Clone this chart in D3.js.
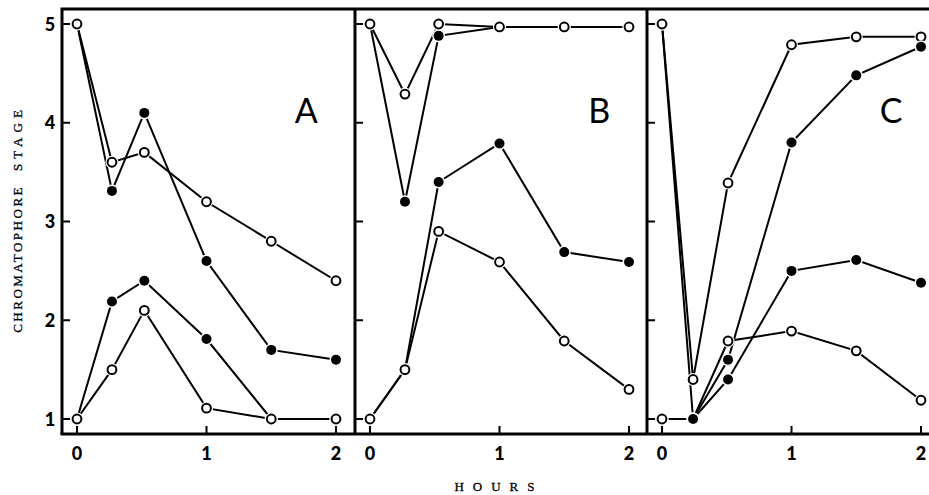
<!DOCTYPE html>
<html>
<head>
<meta charset="utf-8">
<script src="https://cdn.jsdelivr.net/npm/d3@7/dist/d3.min.js"></script>
<style>
  body { margin: 0; background: #fff; }
  svg { display: block; }
</style>
</head>
<body>
<svg id="canvas" width="929" height="495"></svg>
<script>
// chart data
const panelNames = ["A", "B", "C"]
const stageTicks = [1, 2, 3, 4, 5]
const hourTicks = [0, 1, 2]

// sampling times (hours) per panel
const hoursA = [0, 0.27, 0.52, 1, 1.5, 2]
const hoursB = [0, 0.27, 0.53, 1, 1.5, 2]
const hoursC = [0, 0.24, 0.51, 1, 1.5, 2]

// panel A
const aFilledUpper = [5, 3.31, 4.10, 2.60, 1.70, 1.60]
const aOpenUpper = [5, 3.60, 3.70, 3.20, 2.80, 2.40]
const aFilledLower = [1, 2.19, 2.40, 1.81, 1.00, 1.00]
const aOpenLower = [1, 1.50, 2.10, 1.11, 1.00, 1.00]

// panel B
const bFilledUpper = [5, 3.20, 4.88, 4.97, 4.97, 4.97]
const bOpenUpper = [5, 4.29, 5.00, 4.97, 4.97, 4.97]
const bFilledLower = [1, 1.50, 3.40, 3.79, 2.69, 2.59]
const bOpenLower = [1, 1.50, 2.90, 2.59, 1.79, 1.30]

// panel C
const cOpenUpper = [5, 1.40, 3.39, 4.79, 4.87, 4.87]
const cOpenLower = [1, 1.00, 1.79, 1.89, 1.69, 1.19]
const cFilledUpper = [5, 1.00, 1.60, 3.80, 4.48, 4.77]
const cFilledLower = [1, 1.00, 1.40, 2.50, 2.61, 2.38]

// series in drawing order (later ones sit on top)
// the starting points (hour 0) are always drawn as open circles
const panels = [
  { name: panelNames[0], hours: hoursA, series: [
    { v: aFilledUpper, filled: true }, { v: aFilledLower, filled: true },
    { v: aOpenUpper, filled: false }, { v: aOpenLower, filled: false } ] },
  { name: panelNames[1], hours: hoursB, series: [
    { v: bFilledUpper, filled: true }, { v: bFilledLower, filled: true },
    { v: bOpenUpper, filled: false }, { v: bOpenLower, filled: false } ] },
  { name: panelNames[2], hours: hoursC, series: [
    { v: cOpenUpper, filled: false }, { v: cOpenLower, filled: false },
    { v: cFilledUpper, filled: true }, { v: cFilledLower, filled: true } ] }
]

//////////////
// layout   //
//////////////
const frameTop = 9
const frameBottom = 434
const frameRight = 929
const panelLeft = [62, 355, 647]
const zeroOffset = 15
const twoHourWidth = 259

const svg = d3.select("#canvas")

const y = d3.scaleLinear().domain([1, 5]).range([419, 24])

const numFont = "Lato, 'DejaVu Sans', sans-serif"
const serifFont = "'Liberation Serif', 'DejaVu Serif', serif"

panels.forEach((p, i) => {
  const left = panelLeft[i]
  const x = d3.scaleLinear().domain([0, 2])
    .range([left + zeroOffset, left + zeroOffset + twoHourWidth])
  const g = svg.append("g")

  // inward ticks on the panel's left border
  g.selectAll("line.yt").data(stageTicks).enter().append("line")
    .attr("x1", left).attr("x2", left + 8)
    .attr("y1", d => y(d)).attr("y2", d => y(d))
    .attr("stroke", "#000").attr("stroke-width", 2)

  // hour ticks on the bottom
  g.selectAll("line.xt").data(hourTicks).enter().append("line")
    .attr("x1", d => x(d)).attr("x2", d => x(d))
    .attr("y1", frameBottom).attr("y2", frameBottom - 8)
    .attr("stroke", "#000").attr("stroke-width", 2)

  g.selectAll("text.xl").data(hourTicks).enter().append("text")
    .attr("x", d => x(d)).attr("y", 460)
    .attr("text-anchor", "middle")
    .attr("font-family", numFont).attr("font-weight", 900)
    .attr("font-size", 18)
    .text(d => d)

  // panel letter
  g.append("text")
    .attr("x", x(1.77)).attr("y", 123)
    .attr("text-anchor", "middle")
    .attr("font-family", "Lato, 'Open Sans', sans-serif")
    .attr("font-size", 34)
    .text(p.name)

  const line = d3.line()
    .x((d, k) => x(p.hours[k]))
    .y(d => y(d))

  p.series.forEach(s => {
    g.append("path").datum(s.v)
      .attr("d", line)
      .attr("fill", "none")
      .attr("stroke", "#000")
      .attr("stroke-width", 2)
  })

  // white halo so the lines stop short of the dots
  p.series.forEach(s => {
    const isFilled = k => s.filled && k > 0
    g.selectAll(null).data(s.v).enter().append("circle")
      .attr("cx", (d, k) => x(p.hours[k])).attr("cy", d => y(d))
      .attr("r", 6.5).attr("fill", "#fff")
    g.selectAll(null).data(s.v).enter().append("circle")
      .attr("cx", (d, k) => x(p.hours[k])).attr("cy", d => y(d))
      .attr("r", (d, k) => isFilled(k) ? 5 : 4.4)
      .attr("fill", (d, k) => isFilled(k) ? "#000" : "#fff")
      .attr("stroke", "#000")
      .attr("stroke-width", (d, k) => isFilled(k) ? 0 : 2)
  })
})

// frame
svg.append("path")
  .attr("d", `M${panelLeft[0]},${frameBottom}V${frameTop}H${frameRight}`)
  .attr("fill", "none").attr("stroke", "#000").attr("stroke-width", 3)
svg.append("line")
  .attr("x1", panelLeft[0] - 1.5).attr("x2", frameRight)
  .attr("y1", frameBottom).attr("y2", frameBottom)
  .attr("stroke", "#000").attr("stroke-width", 3)
panelLeft.slice(1).forEach(px => {
  svg.append("line")
    .attr("x1", px).attr("x2", px)
    .attr("y1", frameTop).attr("y2", frameBottom)
    .attr("stroke", "#000").attr("stroke-width", 3)
})

// stage labels
svg.selectAll("text.yl").data(stageTicks).enter().append("text")
  .attr("x", 50).attr("y", d => y(d) + 6.5)
  .attr("text-anchor", "middle")
  .attr("font-family", numFont).attr("font-weight", 900)
  .attr("font-size", 18)
  .text(d => d)

// axis titles
svg.append("text")
  .attr("x", 499).attr("y", 491)
  .attr("text-anchor", "middle")
  .attr("font-family", serifFont)
  .attr("font-size", 13)
  .attr("letter-spacing", 9)
  .attr("stroke", "#000").attr("stroke-width", 0.3)
  .text("HOURS")

const yTitle = svg.append("text")
  .attr("transform", "translate(22,219) rotate(-90)")
  .attr("text-anchor", "middle")
  .attr("font-family", serifFont)
  .attr("font-size", 13)
  .attr("letter-spacing", 2.5)
  .attr("stroke", "#000").attr("stroke-width", 0.3)
yTitle.append("tspan").text("CHROMATOPHORE")
yTitle.append("tspan").attr("dx", 14).attr("letter-spacing", 5).text("STAGE")
</script>
</body>
</html>
